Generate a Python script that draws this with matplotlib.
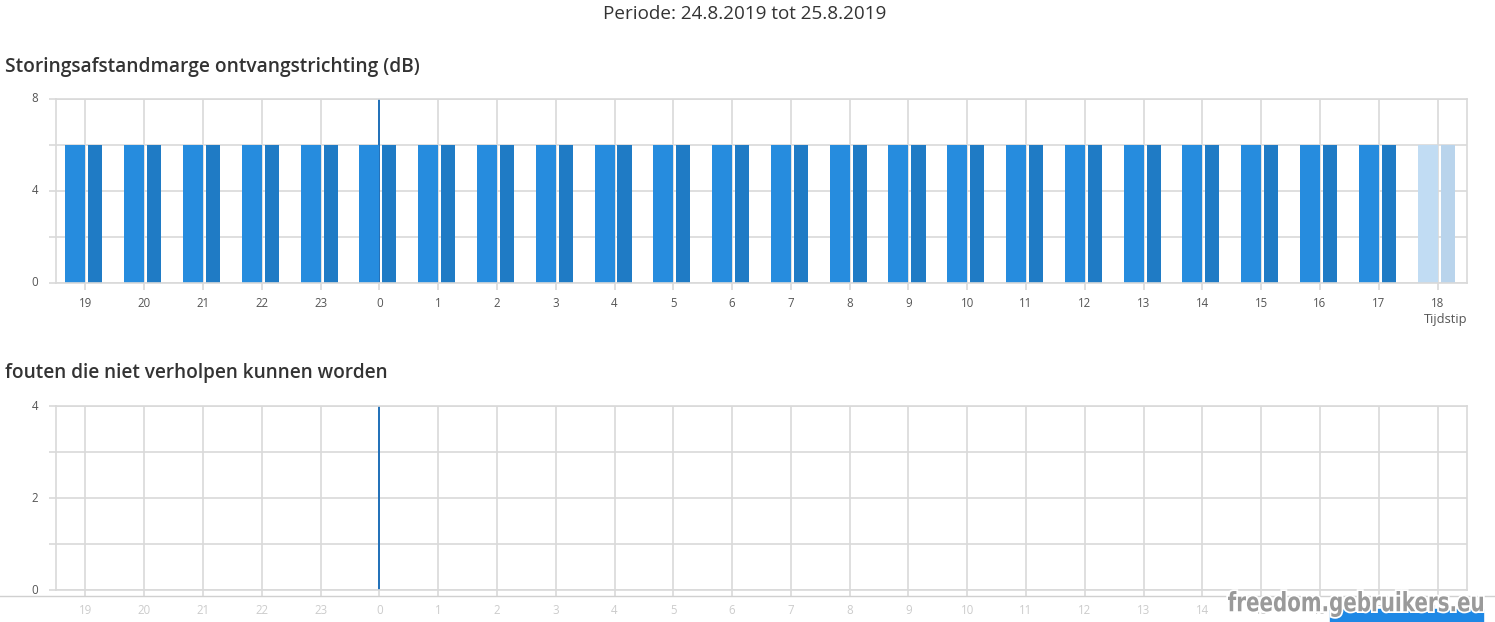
import matplotlib
matplotlib.use("Agg")
import matplotlib.pyplot as plt
import matplotlib.patheffects as pe
from matplotlib.patches import Rectangle, PathPatch
from matplotlib.textpath import TextPath
from matplotlib.font_manager import FontProperties
from matplotlib.transforms import Affine2D
import numpy as np

plt.rcParams['font.family'] = ['Open Sans', 'DejaVu Sans']

hours = ['19', '20', '21', '22', '23', '0', '1', '2', '3', '4', '5', '6',
         '7', '8', '9', '10', '11', '12', '13', '14', '15', '16', '17', '18']
margin_a = [6, 6, 6, 6, 6, 6, 6, 6, 6, 6, 6, 6, 6, 6, 6, 6, 6, 6, 6, 6, 6, 6, 6, 6]
margin_b = [6, 6, 6, 6, 6, 6, 6, 6, 6, 6, 6, 6, 6, 6, 6, 6, 6, 6, 6, 6, 6, 6, 6, 6]
errors = [0, 0, 0, 0, 0, 0, 0, 0, 0, 0, 0, 0, 0, 0, 0, 0, 0, 0, 0, 0, 0, 0, 0, 0]
marker_hour = '0'
period_title = 'Periode: 24.8.2019 tot 25.8.2019'
title_top = 'Storingsafstandmarge ontvangstrichting (dB)'
title_bottom = 'fouten die niet verholpen kunnen worden'
watermark = 'freedom.gebruikers.eu'

W, H = 1495, 622
fig = plt.figure(figsize=(W / 100, H / 100), dpi=100)

GRID = '#d9d9d9'
TXT = '#555555'

def px_axes(x0, y0, x1, y1):
    return fig.add_axes([x0 / W, 1 - y1 / H, (x1 - x0) / W, (y1 - y0) / H])

x = np.arange(len(hours))
marker_idx = hours.index(marker_hour)

def style(ax, ymax, ystep, ylabels, label_color):
    ax.set_xlim(-0.5, len(hours) - 0.5)
    ax.set_ylim(0, ymax)
    ax.set_xticks(x)
    ax.set_xticklabels(hours, fontsize=8.3, color=label_color)
    yt = np.arange(0, ymax + 0.01, ystep)
    ax.set_yticks(yt)
    ax.set_yticklabels([str(int(v)) if int(v) in ylabels else '' for v in yt],
                       fontsize=8.3, color=TXT)
    ax.grid(True, color=GRID, linewidth=1.2, zorder=0)
    ax.set_axisbelow(True)
    for s in ax.spines.values():
        s.set_color(GRID)
        s.set_linewidth(1.2)
    ax.tick_params(axis='x', length=5, color=GRID, pad=5, width=1.2)
    ax.tick_params(axis='y', length=5, color=GRID, pad=8, width=1.2)
    for lbl in ax.get_yticklabels():
        lbl.set_verticalalignment('center')
    ax.axvline(marker_idx, color='#1f6fb8', linewidth=1.4, zorder=1)

# Top chart
ax1 = px_axes(56, 99, 1467, 283)
style(ax1, 8, 2, [0, 4, 8], TXT)
cols_a = ['#c1dcf3' if i == len(hours) - 1 else '#268cde' for i in range(len(hours))]
cols_b = ['#b9d4ec' if i == len(hours) - 1 else '#1f7bc5' for i in range(len(hours))]
ax1.bar(x - 0.34, margin_a, width=0.34, align='edge', color=cols_a, zorder=2)
ax1.bar(x + 0.05, margin_b, width=0.24, align='edge', color=cols_b, zorder=2)
fig.text(1467 / W, 1 - 320 / H, 'Tijdstip', ha='right', va='center', fontsize=9.3, color=TXT)

# Bottom chart
ax2 = px_axes(56, 406, 1467, 590)
style(ax2, 4, 1, [0, 2, 4], '#cccccc')
ax2.bar(x, errors, width=0.5, color='#268cde', zorder=2)

# Titles
fig.text(745 / W, 1 - 14 / H, period_title, ha='center', va='center', fontsize=13.6, color='#333333')
fig.text(5 / W, 1 - 67 / H, title_top, ha='left', va='center', fontsize=13.8, color='#333333', fontweight='semibold')
fig.text(5 / W, 1 - 373 / H, title_bottom, ha='left', va='center', fontsize=13.7, color='#333333', fontweight='semibold')

# bottom separator line
fig.add_artist(plt.Line2D([0, 1], [1 - 596 / H, 1 - 596 / H], color='#d0d0d0', linewidth=1, transform=fig.transFigure))

# Watermark
fig.add_artist(Rectangle((1330 / W, 0), (1483 - 1330) / W, 13 / H, transform=fig.transFigure,
                         color='#1e88e5', zorder=5))
tp = TextPath((0, 0), watermark, size=30, prop=FontProperties(family='DejaVu Sans', weight='bold'))
bb = tp.get_extents()
target_w, target_h = 1483 - 1228, 617 - 591
sx = target_w / bb.width
sy = target_h / (bb.height)
tr = Affine2D().translate(-bb.x0, -bb.y0).scale(sx, sy).translate(1228, H - 617)
path = tr.transform_path(tp)
patch = PathPatch(path, facecolor='#9a9a9a', edgecolor='none', transform=None, zorder=6)
patch.set_path_effects([pe.withStroke(linewidth=2.5, foreground='white')])
fig.add_artist(patch)

fig.savefig('out.png', dpi=100)
